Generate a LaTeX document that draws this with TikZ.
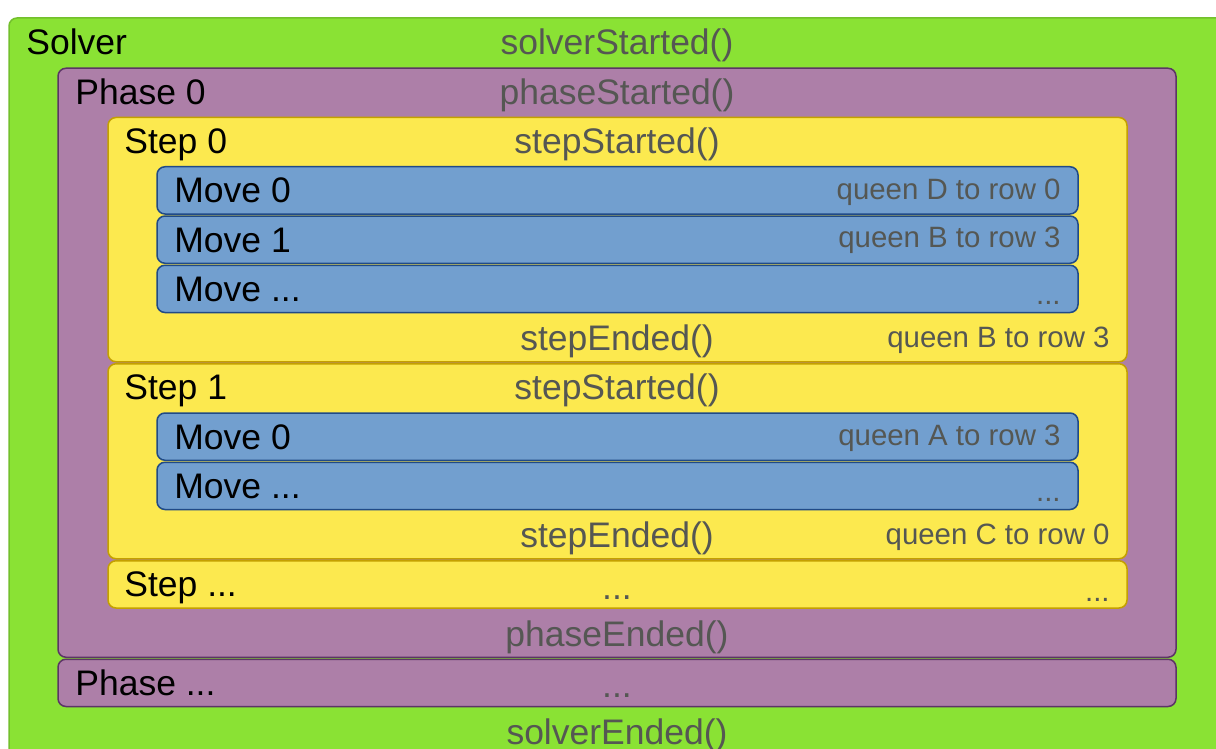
\documentclass[tikz,border=0pt]{standalone}
\usepackage{fontspec}
\setmainfont{Liberation Sans}

\definecolor{solverfill}{HTML}{8AE234}
\definecolor{solverline}{HTML}{73C02C}
\definecolor{phasefill}{HTML}{AD7FA8}
\definecolor{phaseline}{HTML}{5C3566}
\definecolor{stepfill}{HTML}{FCE94F}
\definecolor{stepline}{HTML}{C4A000}
\definecolor{movefill}{HTML}{729FCF}
\definecolor{moveline}{HTML}{204A87}
\definecolor{eventgray}{HTML}{555753}

\begin{document}
\begin{tikzpicture}[x=0.5pt, y=-0.5pt,
    levelbox/.style={rounded corners=4pt, line width=0.75pt},
    solverbox/.style={levelbox, fill=solverfill, draw=solverline},
    phasebox/.style={levelbox, fill=phasefill, draw=phaseline},
    stepbox/.style={levelbox, fill=stepfill, draw=stepline},
    movebox/.style={levelbox, fill=movefill, draw=moveline},
    title/.style={inner sep=0pt, anchor=base west, yshift=-1pt, font=\fontsize{17.75}{20}\selectfont},
    event/.style={inner sep=0pt, anchor=base, yshift=-1pt, text=eventgray, font=\fontsize{17.75}{20}\selectfont},
    detail/.style={inner sep=0pt, anchor=base east, yshift=-1pt, text=eventgray, font=\fontsize{14.7}{17}\selectfont}]
    \useasboundingbox (0,0) rectangle (1216,749);
    \clip (0,0) rectangle (1216,749);

    % solver
    \draw[solverbox] (9,18) rectangle (1240,800);
    \node[title] (solverName) at (26,53) {Solver};
    \node[event] (solverStart) at (617,53) {solverStarted()};
    \node[event] (solverEnd) at (617,742.5) {solverEnded()};

    % phase 0
    \draw[phasebox] (58,68.25) rectangle (1176,657.25);
    \node[title] (phaseName) at (75,102.25) {Phase 0};
    \node[event] (phaseStart) at (617,102.25) {phaseStarted()};
    \node[event] (phaseEnd) at (617,644) {phaseEnded()};

    % step 0
    \draw[stepbox] (108,117.5) rectangle (1127,361.75);
    \node[title] (stepZeroName) at (124,151.5) {Step 0};
    \node[event] (stepZeroStart) at (617,151.5) {stepStarted()};
    \node[event] (stepZeroEnd) at (617,348.5) {stepEnded()};
    \node[detail] (stepZeroMove) at (1110,345) {queen B to row 3};

    \draw[movebox] (157,166.75) rectangle (1078,214);
    \node[title] (moveA) at (174,200.75) {Move 0};
    \node[detail] (moveADetail) at (1061,197) {queen D to row 0};
    \draw[movebox] (157,216) rectangle (1078,263.25);
    \node[title] (moveB) at (174,250) {Move 1};
    \node[detail] (moveBDetail) at (1061,246) {queen B to row 3};
    \draw[movebox] (157,265.25) rectangle (1078,312.5);
    \node[title] (moveC) at (174,299.25) {Move ...};
    \node[detail] (moveCDetail) at (1061,302) {...};

    % step 1
    \draw[stepbox] (108,363.75) rectangle (1127,558.75);
    \node[title] (stepOneName) at (124,397.75) {Step 1};
    \node[event] (stepOneStart) at (617,397.75) {stepStarted()};
    \node[event] (stepOneEnd) at (617,545.5) {stepEnded()};
    \node[detail] (stepOneMove) at (1110,542) {queen C to row 0};

    \draw[movebox] (157,413) rectangle (1078,460.25);
    \node[title] (moveD) at (174,447) {Move 0};
    \node[detail] (moveDDetail) at (1061,443) {queen A to row 3};
    \draw[movebox] (157,462.25) rectangle (1078,509.5);
    \node[title] (moveE) at (174,496.25) {Move ...};
    \node[detail] (moveEDetail) at (1061,499) {...};

    % step ...
    \draw[stepbox] (108,560.75) rectangle (1127,608);
    \node[title] (stepMoreName) at (124,594.75) {Step ...};
    \node[event] (stepMoreEvent) at (617,597) {...};
    \node[detail] (stepMoreDetail) at (1110,599.5) {...};

    % phase ...
    \draw[phasebox] (58,659.25) rectangle (1176,706.5);
    \node[title] (phaseMoreName) at (75,693.25) {Phase ...};
    \node[event] (phaseMoreEvent) at (617,695) {...};
  \end{tikzpicture}
\end{document}
